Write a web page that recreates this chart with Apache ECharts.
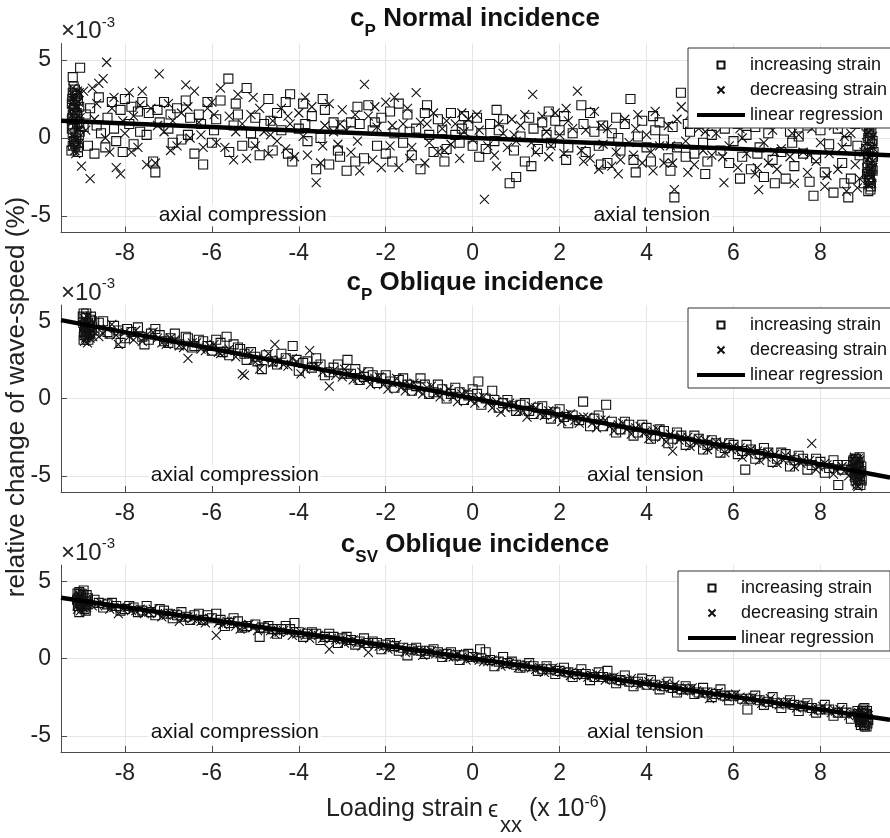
<!DOCTYPE html>
<html>
<head>
<meta charset="utf-8">
<script src="https://cdn.jsdelivr.net/npm/echarts@6/dist/echarts.min.js"></script>
<style>
  html, body { margin: 0; padding: 0; background: #ffffff; }
  #chart { width: 890px; height: 838px; }
</style>
</head>
<body>
<div id="chart"></div>
<script>
// ---- tick labels and legend entries ----
const xTicks = [-8, -6, -4, -2, 0, 2, 4, 6, 8];
const yTicks = [-5, 0, 5];
const legendNames = ['increasing strain', 'decreasing strain', 'linear regression'];
const panelTitles = [['P', 'Normal incidence'], ['P', 'Oblique incidence'], ['SV', 'Oblique incidence']];

// ---- c_P, normal incidence: [strain (1e-6), relative change (1e-3 %)] ----
const normalInc = [
  [-9.2,2.9],[-9.15,2.4],[-9.18,1.8],[-9.1,1.2],[-9.22,0.6],[-9.12,0.1],[-9.2,-0.5],[-9.08,-0.9],[-9.15,3.1],[-9.05,2.0],
  [-9.2,1.5],[-9.1,0.9],[-9.17,-0.2],[-9.04,0.4],[-9.22,2.2],[-9.13,2.7],[-9.08,-0.6],[-9.2,3.9],[-9.03,4.5],[-9.11,1.6],
  [-9.21,2.5],[-9.16,2.1],[-9.09,1.4],[-9.19,0.8],[-9.06,0.2],[-9.14,-0.4],[-9.23,-0.8],[-9.1,2.8],[-9.18,3.3],[-9.05,1.0],
  [-9.12,-0.1],[-9.2,0.3],[-9.08,2.4],[-9.15,1.7],[-9.22,1.2],
  [-8.95,0.7],[-8.9,1.5],[-8.85,-0.5],[-8.8,1.9],[-8.7,-1.0],[-8.65,0.8],[-8.6,2.6],[-8.55,0.3],[-8.45,-0.6],[-8.4,1.3],
  [-8.3,2.3],[-8.25,0.6],[-8.2,-0.2],[-8.1,1.8],[-8.05,-0.9],[-8.0,2.5],[-7.9,0.9],[-7.85,2.0],[-7.8,-0.4],[-7.7,1.7],
  [-7.65,0.4],[-7.6,2.3],[-7.5,0.2],[-7.45,1.6],[-7.35,-1.5],[-7.3,-2.2],[-7.25,1.8],[-7.2,1.0],[-7.1,2.3],[-7.0,0.6],
  [-6.95,1.5],[-6.9,-0.3],[-6.8,1.9],[-6.7,-0.1],[-6.6,2.4],[-6.55,0.2],[-6.5,1.3],[-6.4,-1.0],[-6.3,1.5],[-6.25,0.9],
  [-6.2,-1.7],[-6.1,2.3],[-6.0,-0.3],[-5.95,0.5],[-5.9,1.2],[-5.8,2.4],[-5.62,3.8],[-5.6,-0.9],[-5.5,0.8],[-5.45,2.2],
  [-5.4,1.5],[-5.3,-0.5],[-5.2,3.2],[-5.1,0.3],[-5.05,-0.3],[-5.0,1.3],[-4.9,-1.1],[-4.8,0.9],[-4.7,2.5],[-4.65,1.1],
  [-4.6,-0.8],[-4.5,1.6],[-4.4,0.5],[-4.3,2.3],[-4.25,-1.0],[-4.2,2.8],[-4.15,-1.5],[-4.0,0.6],[-3.9,2.2],[-3.85,0.9],
  [-3.8,-0.2],[-3.7,1.4],[-3.6,-2.0],[-3.5,0.0],[-3.45,2.5],[-3.4,1.8],[-3.3,-1.7],[-3.2,1.0],[-3.1,-0.8],[-3.05,-1.2],
  [-3.0,0.8],[-2.9,-2.1],[-2.8,1.0],[-2.7,-1.5],[-2.65,2.0],[-2.6,0.9],[-2.5,-1.3],[-2.4,2.1],[-2.3,0.5],[-2.25,1.0],
  [-2.2,-0.5],[-2.1,1.3],[-2.0,-1.0],[-1.9,1.7],[-1.85,-1.5],[-1.8,0.3],[-1.7,2.2],[-1.6,-0.3],[-1.5,1.5],[-1.45,0.4],
  [-1.4,-1.1],[-1.3,0.6],[-1.2,-2.0],[-1.1,1.6],[-1.05,2.1],[-1.0,0.2],[-0.9,-0.9],[-0.8,1.2],[-0.7,0.5],[-0.65,-1.5],
  [-0.6,-0.7],[-0.5,1.6],[-0.4,0.2],[-0.3,-0.3],[-0.25,0.6],[-0.2,1.4],[-0.1,0.8],[0.0,-0.5],[0.1,1.3],[0.15,-1.2],
  [0.2,0.3],[0.3,-0.7],[0.4,0.9],[0.5,-0.2],[0.55,1.8],[0.6,0.5],[0.7,1.2],[0.85,-2.9],[0.95,-0.8],[1.0,-2.5],
  [1.1,0.1],[1.2,-1.5],[1.3,1.3],[1.35,-1.8],[1.4,0.6],[1.5,-0.7],[1.6,1.0],[1.7,0.2],[1.75,1.7],[1.8,-0.3],
  [1.9,1.1],[2.0,0.5],[2.1,1.4],[2.15,-1.4],[2.2,-0.6],[2.3,0.3],[2.5,2.1],[2.55,0.9],[2.6,-0.9],[2.7,1.6],
  [2.8,0.4],[2.9,-0.5],[2.95,-1.7],[3.0,0.8],[3.1,-1.6],[3.2,0.3],[3.3,1.3],[3.35,0.0],[3.4,-0.8],[3.5,0.9],
  [3.63,2.5],[3.7,-1.4],[3.75,-2.2],[3.8,0.1],[3.9,1.1],[4.0,-0.6],[4.1,-1.5],[4.15,1.4],[4.2,0.5],[4.3,1.0],
  [4.4,-0.1],[4.5,-1.3],[4.55,-2.1],[4.6,0.7],[4.64,-3.8],[4.7,-0.6],[4.79,2.9],[4.9,-1.2],[4.95,0.9],[5.0,0.4],
  [5.1,-1.0],[5.2,0.9],[5.3,-0.3],[5.35,-2.3],[5.4,-1.5],[5.5,0.2],[5.6,1.0],[5.7,-0.8],[5.75,1.3],[5.8,0.6],
  [5.9,-1.6],[6.0,-0.2],[6.1,0.9],[6.15,-2.6],[6.2,-1.2],[6.3,0.2],[6.4,-2.0],[6.5,0.7],[6.55,-1.0],[6.6,-0.6],
  [6.7,-2.5],[6.8,0.3],[6.9,-1.4],[6.95,-2.9],[7.0,1.1],[7.1,-0.9],[7.2,-2.6],[7.3,0.4],[7.35,-0.3],[7.4,-1.8],
  [7.5,0.1],[7.6,-1.0],[7.7,0.8],[7.75,-2.8],[7.84,-3.7],[7.9,-1.3],[8.0,0.5],[8.1,-2.2],[8.15,1.2],[8.2,-0.4],
  [8.3,-3.5],[8.4,0.6],[8.5,-1.6],[8.55,-2.9],[8.6,-0.2],[8.64,-3.8],[8.7,-2.6],[8.8,0.9],[8.85,-0.5],[8.9,-1.1],
  [9.0,-2.9],[9.1,-3.4],[9.12,-2.5],[9.15,-1.8],[9.1,-1.0],[9.18,-0.4],[9.13,0.3],[9.2,1.0],[9.08,1.6],[9.15,-2.9],
  [9.2,-2.1],[9.05,-0.7],[9.12,0.6],[9.18,-1.4],[9.1,0.0],[9.16,-3.1],[9.2,1.9],[9.07,-2.3],[9.14,-0.1],[9.11,-2.7],
  [9.17,-2.0],[9.09,-1.6],[9.21,-1.2],[9.13,-0.6],[9.06,0.8],[9.19,1.3],[9.15,-3.3],[9.1,-2.2],[9.2,-0.2],[9.12,1.1],
  [9.17,0.4],[9.08,-1.9],[9.14,-2.6],[9.22,-0.9]
];
const normalDec = [
  [-9.2,2.6],[-9.12,1.9],[-9.18,1.1],[-9.1,0.4],[-9.22,-0.3],[-9.15,-0.8],[-9.05,2.9],[-9.2,1.5],[-9.1,-0.1],[-9.16,0.8],
  [-9.07,2.3],[-9.2,3.2],[-9.12,-0.6],[-9.03,1.3],[-9.18,0.2],[-9.1,2.0],[-9.21,2.2],[-9.14,1.6],[-9.08,0.9],[-9.19,-0.5],
  [-9.11,2.7],[-9.17,0.0],[-9.05,0.6],[-9.22,1.8],[-9.13,-1.0],[-9.09,3.0],[-9.18,2.4],[-9.06,-0.4],
  [-9.0,-1.8],[-8.95,3.0],[-8.9,0.5],[-8.8,-2.6],[-8.75,3.2],[-8.7,1.2],[-8.65,2.2],[-8.6,3.5],[-8.5,3.8],[-8.45,0.0],
  [-8.42,4.85],[-8.35,-0.9],[-8.3,1.9],[-8.25,2.6],[-8.2,-1.9],[-8.1,-2.3],[-8.05,1.1],[-8.0,0.3],[-7.9,2.9],[-7.85,-0.9],
  [-7.8,1.4],[-7.7,-0.6],[-7.65,2.1],[-7.6,3.0],[-7.5,-1.7],[-7.4,1.9],[-7.3,-1.6],[-7.25,0.8],[-7.21,4.1],[-7.1,0.4],
  [-7.0,2.2],[-6.95,-0.8],[-6.9,1.1],[-6.8,-0.5],[-6.7,1.6],[-6.6,3.4],[-6.55,2.0],[-6.5,0.0],[-6.4,3.0],[-6.3,1.0],
  [-6.25,0.2],[-6.2,-0.6],[-6.1,1.9],[-6.0,2.3],[-5.95,1.5],[-5.9,-0.3],[-5.8,3.2],[-5.7,-0.6],[-5.6,1.4],[-5.5,-1.4],
  [-5.45,0.4],[-5.4,2.8],[-5.3,0.9],[-5.2,-1.3],[-5.1,1.5],[-5.05,2.6],[-5.0,-0.5],[-4.9,1.9],[-4.8,0.4],[-4.7,-1.0],
  [-4.65,0.2],[-4.6,1.1],[-4.5,-0.2],[-4.4,1.9],[-4.3,-0.7],[-4.25,1.4],[-4.2,0.9],[-4.1,-1.2],[-4.0,1.6],[-3.9,0.1],
  [-3.85,2.6],[-3.8,-1.1],[-3.7,2.0],[-3.6,-2.86],[-3.5,-1.6],[-3.45,-0.5],[-3.4,0.8],[-3.3,2.2],[-3.2,0.4],[-3.1,-0.4],
  [-3.05,0.9],[-3.0,1.8],[-2.9,0.5],[-2.8,-0.9],[-2.7,1.5],[-2.65,-0.2],[-2.6,-2.1],[-2.49,3.44],[-2.4,1.4],[-2.3,-1.4],
  [-2.25,2.0],[-2.2,0.7],[-2.1,-1.9],[-2.0,2.3],[-1.9,-0.5],[-1.85,0.8],[-1.8,2.6],[-1.7,-1.9],[-1.6,0.9],[-1.5,1.9],
  [-1.45,-1.3],[-1.4,-0.6],[-1.3,2.9],[-1.2,1.0],[-1.1,-1.6],[-1.05,0.9],[-1.0,-0.3],[-0.9,1.6],[-0.8,-0.9],[-0.7,0.6],
  [-0.65,-0.8],[-0.6,1.1],[-0.5,-0.4],[-0.4,0.9],[-0.3,-1.3],[-0.25,1.6],[-0.2,0.4],[-0.1,1.2],[0.0,-0.1],[0.1,1.5],
  [0.15,0.5],[0.27,-3.93],[0.35,-0.5],[0.5,-1.1],[0.55,-1.8],[0.6,0.9],[0.7,0.3],[0.8,-0.6],[0.9,1.2],[0.95,0.2],
  [1.0,-0.2],[1.1,0.8],[1.2,1.5],[1.35,-0.3],[1.38,2.8],[1.45,-0.9],[1.6,1.4],[1.7,0.4],[1.75,-1.2],[1.8,-0.5],
  [1.9,1.6],[2.0,0.2],[2.1,-1.0],[2.15,1.9],[2.2,1.1],[2.3,0.6],[2.41,3.0],[2.5,-0.8],[2.55,-1.5],[2.6,0.5],
  [2.7,-1.3],[2.8,1.7],[2.9,-2.0],[2.95,0.8],[3.0,-0.4],[3.1,0.6],[3.2,-1.8],[3.3,-0.9],[3.35,-2.3],[3.4,-1.4],
  [3.5,1.2],[3.6,-0.3],[3.7,-1.1],[3.75,0.6],[3.8,1.5],[3.9,-1.6],[4.0,0.2],[4.1,-0.9],[4.15,-2.1],[4.2,1.7],
  [4.3,-0.5],[4.4,-1.6],[4.5,0.8],[4.55,-0.5],[4.6,-1.6],[4.64,-3.3],[4.7,1.2],[4.8,2.0],[4.9,-0.2],[4.95,-2.2],
  [5.0,1.5],[5.1,-1.7],[5.2,0.6],[5.3,-0.8],[5.35,0.4],[5.4,1.0],[5.5,-1.1],[5.6,0.3],[5.75,-1.2],[5.78,-2.86],
  [5.9,-0.5],[6.0,1.1],[6.1,-1.9],[6.15,0.6],[6.2,0.0],[6.3,-1.0],[6.4,1.2],[6.5,-2.3],[6.55,-1.9],[6.58,-3.3],
  [6.7,-0.3],[6.8,-1.6],[6.9,0.5],[6.95,-0.9],[7.0,-2.0],[7.1,-0.7],[7.2,0.9],[7.3,-1.2],[7.35,0.3],[7.4,-2.9],
  [7.5,0.2],[7.6,-0.9],[7.7,-2.2],[7.75,-1.1],[7.8,0.6],[7.9,-1.5],[8.0,-0.3],[8.1,-3.1],[8.15,-2.4],[8.2,-1.0],
  [8.3,0.8],[8.4,-2.0],[8.5,-0.6],[8.55,0.1],[8.6,-3.4],[8.7,0.3],[8.8,-1.7],[8.85,-3.2],[8.9,-2.6],[9.0,-0.9],
  [9.1,-2.7],[9.15,-1.9],[9.12,-1.2],[9.2,-0.6],[9.08,0.2],[9.18,0.9],[9.1,-3.0],[9.14,-2.2],[9.2,-1.5],[9.06,-0.3],
  [9.16,0.5],[9.12,1.3],[9.19,-2.5],[9.1,-0.9],[9.11,-2.4],[9.16,-1.6],[9.09,-0.8],[9.2,0.1],[9.13,0.7],[9.07,-1.4],
  [9.18,-2.9],[9.12,1.6],[9.15,-0.2],[9.21,-1.9],[9.1,0.4],[9.17,-2.0]
];
const normalFit = [[-9.47, 1.11], [9.6, -1.1]];
const normalNotes = [[-5.29, -4.95, 'axial compression'], [4.12, -4.95, 'axial tension']];

// ---- c_P, oblique incidence ----
const obliquePInc = [
  [-8.95,5.5],[-8.9,5.2],[-8.85,4.9],[-8.92,4.6],[-8.8,4.3],[-8.88,4.0],[-8.95,3.8],[-8.75,5.0],[-8.82,4.7],[-8.9,4.4],
  [-8.78,5.3],[-8.93,4.1],[-8.97,5.3],[-8.91,4.8],[-8.86,4.5],[-8.8,5.1],[-8.94,4.3],[-8.84,3.8],[-8.76,4.6],[-8.89,5.5],
  [-8.83,4.2],[-8.96,4.9],
  [-8.7,4.4],[-8.6,4.9],[-8.5,5.0],[-8.4,4.3],[-8.35,4.2],[-8.25,4.7],[-8.15,4.4],[-8.1,3.6],[-8.0,3.9],[-7.95,4.5],
  [-7.85,4.3],[-7.7,4.6],[-7.6,4.0],[-7.55,3.5],[-7.45,3.8],[-7.4,4.2],[-7.3,4.5],[-7.2,4.1],[-7.1,3.7],[-7.0,3.6],
  [-6.95,3.9],[-6.85,4.2],[-6.75,3.5],[-6.6,4.0],[-6.55,3.9],[-6.45,3.3],[-6.4,3.4],[-6.3,3.8],[-6.2,3.7],[-6.1,3.4],
  [-6.0,3.1],[-5.9,3.8],[-5.8,3.6],[-5.75,3.0],[-5.66,4.0],[-5.6,2.8],[-5.5,3.5],[-5.4,3.3],[-5.35,3.2],[-5.25,2.9],
  [-5.2,2.5],[-5.1,3.0],[-5.0,2.7],[-4.95,2.4],[-4.85,1.9],[-4.75,2.8],[-4.6,2.4],[-4.5,2.2],[-4.4,2.9],[-4.3,2.6],
  [-4.14,3.4],[-4.05,2.5],[-4.0,1.8],[-3.9,2.3],[-3.8,2.4],[-3.7,2.0],[-3.6,2.6],[-3.5,2.2],[-3.4,1.5],[-3.3,1.7],
  [-3.2,2.0],[-3.1,2.2],[-2.95,1.6],[-2.88,2.5],[-2.8,1.6],[-2.7,1.9],[-2.6,1.2],[-2.5,1.4],[-2.4,1.7],[-2.3,1.5],
  [-2.2,1.0],[-2.1,1.3],[-2.0,1.5],[-1.9,1.1],[-1.8,0.7],[-1.7,1.2],[-1.6,1.3],[-1.5,0.9],[-1.4,0.5],[-1.3,0.8],
  [-1.2,1.3],[-1.1,0.9],[-1.0,0.3],[-0.9,0.4],[-0.8,0.9],[-0.7,0.6],[-0.6,0.0],[-0.5,0.3],[-0.4,0.7],[-0.3,0.4],
  [-0.2,-0.1],[-0.1,0.2],[0.0,0.6],[0.1,0.3],[0.13,1.1],[0.2,-0.4],[0.3,0.0],[0.45,0.5],[0.5,-0.1],[0.6,-0.6],
  [0.7,-0.3],[0.8,-0.1],[0.9,-0.5],[1.0,-0.8],[1.1,-0.4],[1.2,-0.3],[1.3,-0.8],[1.4,-1.0],[1.5,-0.6],[1.6,-0.5],
  [1.7,-1.0],[1.8,-1.3],[1.9,-0.9],[2.0,-0.7],[2.1,-1.2],[2.2,-1.6],[2.3,-1.1],[2.45,-1.4],[2.54,-0.2],[2.7,-1.8],
  [2.8,-1.3],[2.9,-1.1],[3.0,-1.8],[3.07,-0.4],[3.2,-1.5],[3.3,-2.2],[3.4,-2.0],[3.5,-1.5],[3.6,-1.7],[3.7,-2.4],
  [3.8,-2.2],[3.9,-1.7],[4.0,-1.9],[4.1,-2.6],[4.2,-2.4],[4.3,-2.0],[4.4,-2.1],[4.5,-2.9],[4.6,-2.6],[4.7,-2.2],
  [4.8,-2.4],[4.9,-3.0],[5.0,-2.8],[5.1,-2.4],[5.2,-2.6],[5.3,-3.3],[5.4,-3.0],[5.5,-2.7],[5.6,-2.9],[5.7,-3.5],
  [5.8,-3.2],[5.9,-2.9],[6.0,-3.0],[6.1,-3.6],[6.2,-3.4],[6.27,-4.6],[6.3,-3.0],[6.4,-3.3],[6.5,-3.9],[6.6,-3.6],
  [6.7,-3.2],[6.8,-3.5],[6.9,-4.1],[7.0,-3.9],[7.1,-3.5],[7.2,-3.6],[7.3,-4.4],[7.4,-4.0],[7.5,-3.7],[7.6,-3.9],
  [7.7,-4.6],[7.8,-4.3],[7.9,-3.9],[8.0,-4.1],[8.1,-4.8],[8.2,-4.5],[8.3,-4.0],[8.4,-4.3],[8.41,-5.6],[8.5,-4.6],
  [8.6,-4.3],
  [8.75,-4.1],[8.8,-4.5],[8.85,-4.9],[8.9,-5.2],[8.82,-3.9],[8.88,-4.4],[8.78,-4.8],[8.92,-5.6],[8.9,-3.8],[8.85,-4.2],
  [8.8,-5.1],[8.93,-4.7],[8.72,-4.6],[8.76,-4.0],[8.81,-5.3],[8.84,-4.7],[8.87,-4.1],[8.91,-5.0],[8.94,-4.4],[8.79,-3.9],
  [8.86,-5.5],[8.9,-4.8],[8.83,-4.3],[8.95,-5.3]
];
const obliquePDec = [
  [-8.92,5.0],[-8.85,4.6],[-8.9,4.2],[-8.8,3.9],[-8.95,4.8],[-8.87,5.3],[-8.75,4.4],[-8.93,3.7],[-8.82,4.1],[-8.96,4.5],
  [-8.9,3.9],[-8.84,4.9],[-8.78,4.2],[-8.94,5.2],[-8.86,3.6],[-8.8,4.7],[-8.74,4.0],[-8.91,4.4],
  [-8.7,4.5],[-8.6,4.0],[-8.5,4.2],[-8.4,4.5],[-8.3,4.8],[-8.2,4.1],[-8.15,3.5],[-8.0,4.3],[-7.9,4.0],[-7.8,3.8],
  [-7.75,4.4],[-7.6,3.7],[-7.5,4.1],[-7.35,4.3],[-7.25,3.9],[-7.15,3.6],[-7.05,3.5],[-6.95,3.9],[-6.85,3.8],[-6.75,3.4],
  [-6.65,3.3],[-6.55,2.6],[-6.45,3.6],[-6.35,3.6],[-6.25,3.2],[-6.15,3.1],[-6.05,3.4],[-5.95,3.5],[-5.85,3.0],[-5.8,2.9],
  [-5.65,3.1],[-5.6,3.2],[-5.45,2.7],[-5.3,1.6],[-5.25,1.5],[-5.15,2.9],[-5.05,2.5],[-4.95,2.5],[-4.9,1.9],[-4.8,2.6],
  [-4.7,2.9],[-4.6,2.3],[-4.55,3.5],[-4.45,2.5],[-4.35,2.2],[-4.25,2.1],[-4.15,2.6],[-4.05,2.4],[-3.95,1.6],[-3.85,1.9],
  [-3.75,3.1],[-3.65,2.1],[-3.55,2.1],[-3.45,1.7],[-3.3,0.8],[-3.2,1.8],[-3.15,1.5],[-3.0,1.4],[-2.95,1.9],[-2.85,1.6],
  [-2.75,1.2],[-2.65,1.3],[-2.55,1.7],[-2.45,1.2],[-2.35,0.9],[-2.25,1.3],[-2.15,1.4],[-2.05,0.9],[-1.95,0.6],[-1.85,1.0],
  [-1.75,1.3],[-1.65,0.7],[-1.55,0.5],[-1.45,0.9],[-1.35,1.0],[-1.25,0.5],[-1.15,0.3],[-1.05,0.7],[-0.95,0.8],[-0.85,0.3],
  [-0.75,0.1],[-0.65,0.4],[-0.55,0.6],[-0.45,0.1],[-0.35,-0.2],[-0.25,0.3],[-0.15,0.4],[-0.05,-0.1],[0.05,-0.3],[0.15,0.0],
  [0.25,0.1],[0.35,-0.3],[0.45,-0.6],[0.55,-0.2],[0.65,-0.9],[0.75,-0.6],[0.85,-0.3],[0.95,-0.4],[1.05,-0.8],[1.15,-0.8],
  [1.25,-1.2],[1.35,-0.5],[1.45,-0.6],[1.55,-1.0],[1.65,-1.1],[1.75,-0.8],[1.85,-0.8],[1.95,-1.2],[2.05,-1.5],[2.15,-1.1],
  [2.25,-1.0],[2.35,-1.4],[2.45,-1.6],[2.55,-1.2],[2.65,-1.2],[2.75,-1.6],[2.85,-1.9],[2.95,-1.4],[3.05,-1.4],[3.15,-1.8],
  [3.25,-2.1],[3.35,-1.7],[3.45,-1.6],[3.55,-2.0],[3.65,-2.3],[3.75,-1.9],[3.85,-1.8],[3.95,-2.2],[4.05,-2.6],[4.15,-2.1],
  [4.25,-2.0],[4.35,-2.5],[4.45,-2.8],[4.55,-2.3],[4.6,-3.4],[4.75,-2.7],[4.8,-2.5],[4.95,-2.5],[5.0,-3.1],[5.15,-2.9],
  [5.2,-2.6],[5.35,-2.7],[5.4,-3.3],[5.55,-3.1],[5.6,-2.8],[5.75,-2.9],[5.8,-3.5],[5.95,-3.3],[6.0,-3.1],[6.15,-3.2],
  [6.2,-3.8],[6.35,-3.6],[6.4,-3.3],[6.55,-3.4],[6.6,-4.0],[6.75,-3.8],[6.8,-3.5],[6.95,-3.6],[7.0,-4.2],[7.15,-4.0],
  [7.2,-3.7],[7.35,-3.8],[7.4,-4.4],[7.55,-4.2],[7.6,-4.0],[7.75,-4.0],[7.8,-2.9],[7.9,-4.6],[7.95,-4.4],[8.1,-4.2],
  [8.15,-4.3],[8.3,-4.9],[8.35,-4.6],[8.5,-4.4],[8.55,-4.7],[8.65,-5.0],
  [8.75,-4.3],[8.8,-4.7],[8.85,-5.1],[8.9,-4.0],[8.82,-5.4],[8.88,-4.6],[8.78,-3.8],[8.92,-4.9],[8.86,-5.7],[8.73,-4.5],
  [8.77,-5.0],[8.81,-4.1],[8.84,-5.6],[8.88,-4.9],[8.91,-4.3],[8.94,-5.2],[8.8,-4.4],[8.87,-3.9]
];
const obliquePFit = [[-9.47, 5.07], [9.6, -5.12]];
const obliquePNotes = [[-5.47, -4.96, 'axial compression'], [3.97, -4.96, 'axial tension']];

// ---- c_SV, oblique incidence ----
const obliqueSvInc = [
  [-9.05,4.3],[-9.0,4.0],[-8.95,3.7],[-9.08,3.4],[-8.9,3.1],[-9.02,4.2],[-8.85,3.9],[-8.98,3.3],[-9.1,3.8],[-8.92,3.5],
  [-8.88,4.1],[-9.07,3.9],[-9.03,3.6],[-8.97,4.1],[-8.93,3.2],[-8.89,3.7],[-9.09,4.2],[-9.0,3.4],[-8.86,3.5],[-8.95,4.4],
  [-9.05,3.0],
  [-8.7,3.8],[-8.6,3.6],[-8.5,3.3],[-8.4,3.5],[-8.3,3.6],[-8.2,3.4],[-8.1,3.1],[-8.0,3.2],[-7.9,3.4],[-7.8,3.3],
  [-7.7,3.0],[-7.6,3.1],[-7.5,3.4],[-7.4,3.0],[-7.3,2.8],[-7.2,3.2],[-7.1,3.1],[-7.0,2.9],[-6.9,2.6],[-6.8,2.8],
  [-6.7,3.0],[-6.6,2.7],[-6.5,2.5],[-6.4,2.8],[-6.3,2.9],[-6.2,2.5],[-6.1,2.8],[-6.0,2.6],[-5.9,2.9],[-5.8,2.5],
  [-5.7,2.1],[-5.6,2.3],[-5.5,2.6],[-5.4,2.4],[-5.3,2.0],[-5.2,2.1],[-5.0,2.2],[-4.9,1.4],[-4.8,2.0],[-4.7,2.1],
  [-4.6,1.9],[-4.5,1.6],[-4.4,1.9],[-4.3,2.1],[-4.2,1.9],[-4.1,2.3],[-4.0,1.7],[-3.9,1.4],[-3.8,1.6],[-3.7,1.7],
  [-3.6,1.6],[-3.5,1.2],[-3.4,1.4],[-3.3,1.6],[-3.2,1.4],[-3.1,1.0],[-3.0,1.3],[-2.9,1.4],[-2.8,1.2],[-2.7,0.9],
  [-2.6,1.1],[-2.5,1.3],[-2.4,1.0],[-2.3,1.1],[-2.2,1.0],[-2.1,0.6],[-2.0,0.9],[-1.9,1.0],[-1.8,0.8],[-1.7,0.5],
  [-1.6,0.7],[-1.5,0.2],[-1.4,0.6],[-1.3,0.7],[-1.2,0.5],[-1.1,0.3],[-1.0,0.5],[-0.9,0.6],[-0.8,0.4],[-0.7,0.1],
  [-0.6,0.3],[-0.5,0.4],[-0.4,0.2],[-0.3,-0.1],[-0.2,0.2],[-0.1,0.3],[0.0,0.1],[0.17,0.6],[0.2,0.0],[0.3,0.4],
  [0.4,-0.1],[0.5,-0.5],[0.6,-0.2],[0.7,0.1],[0.8,-0.3],[0.9,-0.2],[1.0,-0.4],[1.1,-0.6],[1.2,-0.5],[1.3,-0.3],
  [1.4,-0.5],[1.5,-0.8],[1.6,-0.7],[1.7,-0.5],[1.8,-0.7],[1.9,-1.0],[2.0,-0.8],[2.1,-0.6],[2.2,-0.9],[2.3,-1.2],
  [2.4,-1.0],[2.5,-0.7],[2.6,-1.0],[2.7,-1.4],[2.8,-1.2],[2.9,-0.9],[3.0,-1.2],[3.1,-0.8],[3.2,-1.3],[3.3,-1.6],
  [3.4,-1.4],[3.5,-1.1],[3.6,-1.5],[3.7,-1.8],[3.8,-1.5],[3.9,-1.3],[4.0,-1.7],[4.1,-1.4],[4.2,-1.7],[4.3,-2.0],
  [4.4,-1.8],[4.5,-1.5],[4.6,-1.9],[4.7,-2.2],[4.8,-2.0],[4.9,-1.8],[5.0,-2.0],[5.1,-2.3],[5.2,-2.2],[5.3,-1.9],
  [5.4,-2.2],[5.5,-2.5],[5.6,-2.3],[5.7,-2.0],[5.8,-2.4],[5.9,-2.7],[6.0,-2.4],[6.2,-2.6],[6.32,-3.3],[6.4,-2.6],
  [6.5,-2.4],[6.6,-2.7],[6.7,-3.0],[6.8,-2.8],[6.9,-2.5],[7.0,-2.9],[7.1,-3.2],[7.2,-2.9],[7.3,-2.7],[7.4,-3.0],
  [7.5,-3.4],[7.6,-3.1],[7.7,-2.9],[7.8,-3.2],[7.9,-3.5],[8.0,-3.3],[8.1,-3.0],[8.2,-3.3],[8.3,-3.7],[8.4,-3.5],
  [8.5,-3.2],[8.6,-3.5],[8.7,-3.9],
  [8.85,-3.4],[8.9,-3.7],[8.95,-4.0],[9.0,-4.3],[9.05,-3.6],[8.92,-3.9],[9.08,-4.2],[8.98,-3.3],[9.02,-4.4],[8.88,-3.8],
  [9.1,-4.0],[8.87,-3.6],[8.91,-4.1],[8.96,-3.5],[9.0,-3.8],[9.04,-4.1],[9.07,-3.4],[9.09,-3.9],[8.93,-4.3],[9.01,-3.2],
  [9.06,-4.4]
];
const obliqueSvDec = [
  [-9.05,4.0],[-9.0,3.6],[-8.95,3.3],[-9.08,3.9],[-8.9,3.5],[-9.02,3.1],[-8.87,3.7],[-8.98,4.2],[-9.1,3.4],[-9.06,3.7],
  [-9.01,3.9],[-8.96,3.5],[-8.91,3.8],[-9.09,3.2],[-8.99,3.4],[-8.88,3.3],[-9.04,4.1],
  [-8.75,3.4],[-8.65,3.5],[-8.55,3.6],[-8.45,3.4],[-8.35,3.2],[-8.25,3.3],[-8.15,2.9],[-8.05,3.2],[-7.95,3.3],[-7.85,3.1],
  [-7.75,3.1],[-7.65,3.2],[-7.55,2.9],[-7.45,3.0],[-7.35,3.2],[-7.25,2.9],[-7.15,2.7],[-7.05,2.8],[-6.95,2.9],[-6.85,2.9],
  [-6.75,2.4],[-6.65,2.6],[-6.55,2.7],[-6.45,2.6],[-6.35,2.5],[-6.25,2.4],[-6.15,2.3],[-6.05,2.6],[-5.9,1.5],[-5.85,2.3],
  [-5.75,2.2],[-5.65,2.4],[-5.55,2.4],[-5.45,2.1],[-5.35,1.9],[-5.25,2.0],[-5.15,2.2],[-5.05,2.0],[-4.95,1.8],[-4.85,2.1],
  [-4.75,1.9],[-4.65,1.8],[-4.55,1.6],[-4.45,1.7],[-4.35,1.8],[-4.25,1.7],[-4.15,1.5],[-4.05,1.6],[-3.95,1.7],[-3.85,1.5],
  [-3.75,1.3],[-3.65,1.6],[-3.55,1.5],[-3.45,1.3],[-3.3,0.6],[-3.25,1.3],[-3.15,1.2],[-3.05,1.2],[-2.95,1.0],[-2.85,1.1],
  [-2.75,1.2],[-2.65,1.0],[-2.55,0.8],[-2.45,1.0],[-2.4,0.4],[-2.25,0.9],[-2.15,0.8],[-2.05,0.8],[-1.95,0.6],[-1.85,0.7],
  [-1.75,0.9],[-1.65,0.7],[-1.55,0.4],[-1.45,0.5],[-1.35,0.5],[-1.25,0.5],[-1.15,0.2],[-1.05,0.4],[-0.95,0.5],[-0.85,0.3],
  [-0.75,0.3],[-0.65,0.3],[-0.55,0.1],[-0.45,0.1],[-0.35,0.3],[-0.25,0.1],[-0.15,-0.1],[-0.05,0.0],[0.05,0.1],[0.15,-0.1],
  [0.25,-0.2],[0.35,-0.2],[0.45,-0.1],[0.55,-0.2],[0.65,-0.5],[0.75,-0.4],[0.85,-0.3],[0.95,-0.4],[1.05,-0.6],[1.15,-0.5],
  [1.25,-0.4],[1.35,-0.6],[1.45,-0.7],[1.55,-0.6],[1.65,-0.9],[1.75,-0.8],[1.85,-0.6],[1.95,-0.8],[2.05,-0.9],[2.15,-0.9],
  [2.25,-1.1],[2.35,-1.0],[2.45,-0.9],[2.55,-1.1],[2.65,-1.2],[2.75,-1.1],[2.85,-1.0],[2.95,-1.2],[3.05,-1.4],[3.15,-1.3],
  [3.25,-1.2],[3.35,-1.4],[3.45,-1.5],[3.55,-1.4],[3.65,-1.3],[3.75,-1.6],[3.85,-1.7],[3.95,-1.6],[4.05,-1.5],[4.15,-1.7],
  [4.25,-1.8],[4.35,-1.8],[4.45,-1.6],[4.55,-1.9],[4.65,-1.7],[4.75,-1.9],[4.85,-2.1],[4.95,-2.0],[5.05,-1.9],[5.15,-2.1],
  [5.25,-2.3],[5.35,-2.2],[5.45,-2.6],[5.55,-2.3],[5.65,-2.2],[5.75,-2.4],[5.85,-2.5],[5.95,-2.4],[6.05,-2.3],[6.15,-2.5],
  [6.25,-2.7],[6.35,-2.6],[6.45,-2.5],[6.55,-2.7],[6.65,-2.9],[6.75,-2.8],[6.85,-2.6],[6.95,-2.8],[7.05,-3.0],[7.15,-2.9],
  [7.25,-2.8],[7.35,-3.0],[7.45,-3.2],[7.55,-3.1],[7.65,-3.0],[7.75,-3.2],[7.85,-3.4],[7.95,-3.3],[8.05,-3.1],[8.15,-3.3],
  [8.25,-3.5],[8.35,-3.4],[8.45,-3.3],[8.55,-3.5],[8.65,-3.7],[8.75,-3.6],
  [8.85,-3.6],[8.9,-3.9],[8.95,-3.4],[9.0,-4.1],[9.05,-3.7],[8.92,-4.2],[9.08,-3.5],[8.98,-3.8],[8.88,-3.5],[8.93,-3.8],
  [8.97,-4.0],[9.02,-3.6],[9.06,-3.9],[9.1,-3.7],[8.9,-4.1],[9.0,-4.3]
];
const obliqueSvFit = [[-9.47, 3.93], [9.6, -3.96]];
const obliqueSvNotes = [[-5.47, -4.78, 'axial compression'], [3.97, -4.8, 'axial tension']];

// ---- layout ----
const FONT = '"Liberation Sans", Arial, Helvetica, sans-serif';
const INK = '#111111';
const AXIS = '#4a4a4a';
const SQUARE = 'path://M0,0L10,0L10,10L0,10Z';
const CROSS = 'path://M0,0L10,10M10,0L0,10';
const X_RANGE = [-9.47, 9.6];
const Y_RANGE = [-6.05, 6.05];

const panels = [
  { inc: normalInc, dec: normalDec, fit: normalFit, notes: normalNotes,
    grid: { top: 43.5, height: 189 }, legend: { left: 688, top: 48, padding: [8, 4, 4, 7] },
    titleY: 19, expY: 31.5 },
  { inc: obliquePInc, dec: obliquePDec, fit: obliquePFit, notes: obliquePNotes,
    grid: { top: 305, height: 187 }, legend: { left: 688, top: 308, padding: [8, 4, 4, 7] },
    titleY: 283, expY: 293 },
  { inc: obliqueSvInc, dec: obliqueSvDec, fit: obliqueSvFit, notes: obliqueSvNotes,
    grid: { top: 565, height: 187 }, legend: { left: 678, top: 571, padding: [8, 12, 4, 8] },
    titleY: 545, expY: 553 }
];

const chart = echarts.init(document.getElementById('chart'), null, { renderer: 'canvas' });

const grids = panels.map(p => ({ left: 61, width: 832, top: p.grid.top, height: p.grid.height, containLabel: false }));

const xAxes = panels.map((p, i) => ({
  gridIndex: i, type: 'value', min: X_RANGE[0], max: X_RANGE[1],
  axisLine: { show: true, onZero: false, lineStyle: { color: AXIS, width: 1 } },
  axisTick: { show: true, inside: true, length: 6, customValues: xTicks, lineStyle: { color: AXIS } },
  axisLabel: { customValues: xTicks, fontSize: 23, color: '#222', margin: 10, fontFamily: FONT },
  splitLine: { show: true, lineStyle: { color: '#e6e6e6', width: 1 } }
}));

const yAxes = panels.map((p, i) => ({
  gridIndex: i, type: 'value', min: Y_RANGE[0], max: Y_RANGE[1],
  axisLine: { show: true, onZero: false, lineStyle: { color: AXIS, width: 1 } },
  axisTick: { show: true, inside: true, length: 6, customValues: yTicks, lineStyle: { color: AXIS } },
  axisLabel: { customValues: yTicks, fontSize: 23, color: '#222', margin: 10, fontFamily: FONT },
  splitLine: { show: true, lineStyle: { color: '#e6e6e6', width: 1 } }
}));

const markerStyle = { color: 'rgba(0,0,0,0)', borderColor: INK, borderWidth: 1.1, opacity: 1 };
const series = [];
panels.forEach((p, i) => {
  series.push({
    name: legendNames[0], type: 'scatter', xAxisIndex: i, yAxisIndex: i, data: p.inc,
    symbol: SQUARE, symbolSize: 9, z: 3, silent: true, itemStyle: markerStyle
  });
  series.push({
    name: legendNames[1], type: 'scatter', xAxisIndex: i, yAxisIndex: i, data: p.dec,
    symbol: CROSS, symbolSize: 9, z: 3, silent: true, itemStyle: markerStyle
  });
  series.push({
    name: legendNames[2], type: 'line', xAxisIndex: i, yAxisIndex: i, data: p.fit,
    symbol: 'none', z: 4, silent: true,
    itemStyle: { color: '#000' },
    lineStyle: { color: '#000', width: 4.5 }
  });
  series.push({
    type: 'scatter', xAxisIndex: i, yAxisIndex: i, data: p.notes,
    symbolSize: 1, z: 5, silent: true,
    itemStyle: { color: 'rgba(0,0,0,0)', opacity: 1 },
    label: {
      show: true, position: 'inside', formatter: d => d.data[2], opacity: 1,
      fontSize: 21, color: '#111', fontFamily: FONT, backgroundColor: '#fff', padding: [0, 2]
    }
  });
});

const legends = panels.map(p => ({
  data: [
    { name: legendNames[0] },
    { name: legendNames[1] },
    { name: legendNames[2], itemStyle: { color: 'rgba(0,0,0,0)', borderWidth: 0, opacity: 0 } }
  ],
  orient: 'vertical', left: p.legend.left, top: p.legend.top,
  padding: p.legend.padding, itemWidth: 48, itemHeight: 7, itemGap: 7,
  backgroundColor: '#fff', borderColor: '#333', borderWidth: 1, borderRadius: 0,
  selectedMode: false, z: 10,
  lineStyle: { width: 4 },
  textStyle: { fontSize: 18, color: '#111', fontFamily: FONT }
}));

const graphics = [];
panels.forEach((p, i) => {
  const t = panelTitles[i];
  graphics.push({
    type: 'text', x: 475, y: p.titleY, silent: true,
    style: {
      text: '{m|c}{s|' + t[0] + '}{m| ' + t[1] + '}',
      align: 'center', verticalAlign: 'middle',
      rich: {
        m: { fontSize: 26, fontWeight: 'bold', fontFamily: FONT, fill: '#111', verticalAlign: 'middle' },
        s: { fontSize: 17, fontWeight: 'bold', fontFamily: FONT, fill: '#111', verticalAlign: 'middle', padding: [24, 0, 0, 0] }
      }
    }
  });
  graphics.push({
    type: 'text', x: 61, y: p.expY, silent: true,
    style: {
      text: '{m|\u00d710}{p|-3}',
      align: 'left', verticalAlign: 'middle',
      rich: {
        m: { fontSize: 24, fontFamily: FONT, fill: '#222', verticalAlign: 'middle' },
        p: { fontSize: 15, fontFamily: FONT, fill: '#222', verticalAlign: 'middle', padding: [0, 0, 18, 0] }
      }
    }
  });
});

// x-axis name, assembled from pieces so the subscript and superscript sit where they should
const xNameMid = 809;
graphics.push({ type: 'text', x: 483, y: xNameMid, silent: true,
  style: { text: 'Loading strain', align: 'right', verticalAlign: 'middle', fontSize: 25, fontFamily: FONT, fill: '#222' } });
graphics.push({ type: 'text', x: 488, y: xNameMid + 2, silent: true,
  style: { text: '\u03f5', align: 'left', verticalAlign: 'middle', fontSize: 23, fontFamily: FONT, fill: '#222' } });
graphics.push({ type: 'text', x: 500, y: xNameMid, silent: true,
  style: {
    text: '{s|xx}{m| (x 10}{p|-6}{m|)}', align: 'left', verticalAlign: 'middle',
    rich: {
      m: { fontSize: 25, fontFamily: FONT, fill: '#222', verticalAlign: 'middle' },
      s: { fontSize: 22, fontFamily: FONT, fill: '#222', verticalAlign: 'middle', padding: [34, 0, 0, 0] },
      p: { fontSize: 16, fontFamily: FONT, fill: '#222', verticalAlign: 'middle', padding: [0, 0, 13, 0] }
    }
  } });
graphics.push({
  type: 'text', x: 17, y: 397, rotation: Math.PI / 2, silent: true,
  style: {
    text: 'relative change of wave-speed (%)',
    align: 'center', verticalAlign: 'middle',
    fontSize: 26, fontFamily: FONT, fill: '#222'
  }
});

chart.setOption({
  animation: false,
  backgroundColor: '#ffffff',
  grid: grids,
  xAxis: xAxes,
  yAxis: yAxes,
  legend: legends,
  series: series,
  graphic: graphics
});
</script>
</body>
</html>
